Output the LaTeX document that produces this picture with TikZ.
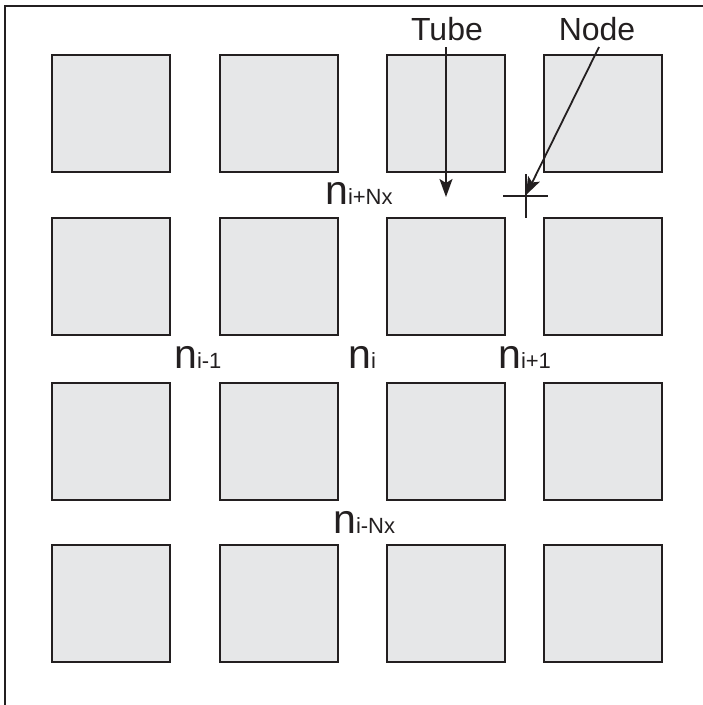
\documentclass[tikz,border=0pt]{standalone}
\usepackage{fontspec}
\setmainfont{Liberation Sans}
\usetikzlibrary{arrows.meta}
\definecolor{cellgrey}{RGB}{230,231,232}
\definecolor{ink}{RGB}{35,31,32}
\newcommand{\nlabel}[1]{{\fontsize{41}{41}\selectfont n}{\fontsize{22}{22}\selectfont #1}}
\begin{document}
\begin{tikzpicture}[x=1pt,y=-1pt,
  cell/.style={draw=ink,line width=2pt,fill=cellgrey,minimum width=118pt,minimum height=117pt,inner sep=0pt},
  nlab/.style={anchor=base west,inner sep=0pt,text=ink},
  callout/.style={anchor=center,inner sep=0pt,text=ink,font=\fontsize{32}{32}\selectfont},
  pointer/.style={draw=ink,line width=1.8pt,-{Stealth[length=18pt,width=13pt,inset=4pt]}},
  crossline/.style={draw=ink,line width=2pt}]
\useasboundingbox (0,0) rectangle (703,705);
% outer frame (runs past the right and bottom edges)
\draw[ink,line width=2pt] (5,720) -- (5,6) -- (720,6);
% grid of tube cross-sections
\foreach \cx [count=\i] in {111,279,446,603}{
  \foreach \cy [count=\j] in {113.5,276.5,441,603.5}{
    \node[cell] (c\i\j) at (\cx,\cy) {};
  }
}
% node labels
\node[nlab] (nim) at (174,368) {\nlabel{i-1}};
\node[nlab] (ni) at (348,368) {\nlabel{i}};
\node[nlab] (nip) at (498,368) {\nlabel{i+1}};
\node[nlab] (nipn) at (325,204) {\nlabel{i+Nx}};
\node[nlab] (nimn) at (333,533) {\nlabel{i-Nx}};
% callouts
\node[callout] (tube) at (447,29) {Tube};
\node[callout] (node) at (597,29) {Node};
\coordinate (tubetip) at (446,197);
\coordinate (cross) at (526,195);
\draw[crossline] (503,196) -- (548,196);
\draw[crossline] (526,174) -- (526,218);
\draw[pointer] (446,47) -- (tubetip);
\draw[pointer] (599,47) -- (cross);
\end{tikzpicture}
\end{document}
